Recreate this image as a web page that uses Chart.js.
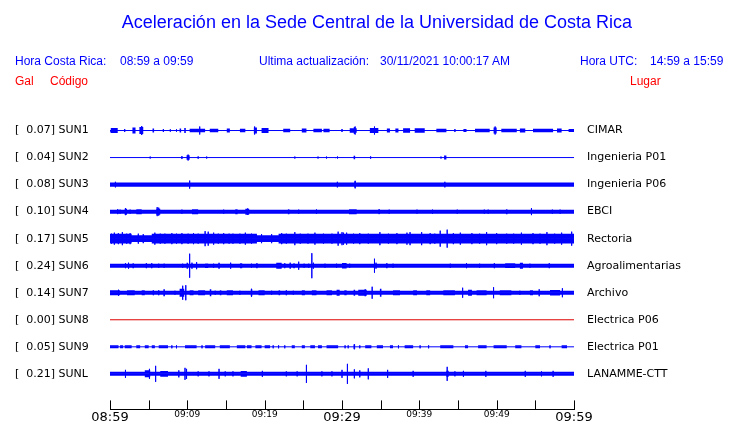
<!DOCTYPE html>
<html>
<head>
<meta charset="utf-8">
<script src="https://cdn.jsdelivr.net/npm/chart.js@4"></script>
<style>
  body { margin: 0; background: #fff; }
  #wrap { position: relative; width: 740px; height: 423px; overflow: hidden; }
  /* canvas a bit taller than the page so the time axis lands at y=409 */
  #box { position: absolute; left: 0; top: 0; width: 740px; height: 429px; }
  .t { position: absolute; white-space: pre; font-family: "Liberation Sans", Arial, sans-serif;
       font-size: 12px; line-height: 14px; color: #0000ff; }
  .r { color: #ff0000; }
  #titulo { left: 0; width: 754px; top: 12px; text-align: center; font-size: 18px; line-height: 20px; }
</style>
</head>
<body>
<div id="wrap">
  <div id="box"><canvas id="sismo"></canvas></div>
  <div class="t" id="titulo">Aceleración en la Sede Central de la Universidad de Costa Rica</div>
  <div class="t" style="left:15px;top:54px">Hora Costa Rica:</div>
  <div class="t" style="left:120px;top:54px">08:59 a 09:59</div>
  <div class="t" style="left:259px;top:54px">Ultima actualización:</div>
  <div class="t" style="left:380px;top:54px">30/11/2021 10:00:17 AM</div>
  <div class="t" style="left:580px;top:54px">Hora UTC:</div>
  <div class="t" style="left:650px;top:54px">14:59 a 15:59</div>
  <div class="t r" style="left:15px;top:74px">Gal</div>
  <div class="t r" style="left:50px;top:74px">Código</div>
  <div class="t r" style="left:630px;top:74px">Lugar</div>
</div>
<script>
// STATIONS
const codigos = ['SUN1', 'SUN2', 'SUN3', 'SUN4', 'SUN5', 'SUN6', 'SUN7', 'SUN8', 'SUN9', 'SUNL'];
const lugares = ['CIMAR', 'Ingenieria P01', 'Ingenieria P06', 'EBCI', 'Rectoria', 'Agroalimentarias',
                 'Archivo', 'Electrica P06', 'Electrica P01', 'LANAMME-CTT'];
const gal = [0.07, 0.04, 0.08, 0.10, 0.17, 0.24, 0.14, 0.00, 0.05, 0.21];

// time axis labels, one every 10 minutes (minute 0 = 08:59)
const horas = ['08:59', '09:09', '09:19', '09:29', '09:39', '09:49', '09:59'];

// background noise half-width of every trace
const fondo = [0.4, 0, 2.2, 2.0, 3.3, 2.0, 2.0, 0, 0, 2.0];

// BURSTS [from minute, to minute, half amplitude]  and  PEAKS [minute, half amplitude]
const rafagasSUN1 = [[0.1,1.0,2.5],[2.9,3.3,3],[3.8,4.3,3.5],[5.5,5.7,2],[9.0,9.2,2],[9.6,9.8,2.5],[10.3,12.3,1.8],
  [12.9,14.0,1.8],[15.1,15.5,2],[16.8,17.5,1.8],[18.6,19.0,3],[19.6,20.5,2.5],[22.4,23.3,1.8],[24.8,25.4,2],
  [26.3,27.4,1.8],[27.6,28.4,1.8],[29.9,30.1,1.5],[31.0,31.9,2.2],[33.6,34.7,2.5],[35.8,36.2,2],[36.9,37.3,2],
  [37.9,38.8,2.2],[39.4,40.7,2.2],[42.2,43.5,1.8],[45.7,46.1,1.5],[47.2,49.1,1.8],[49.6,50.0,3],[50.6,52.6,1.8],
  [53.0,53.7,2],[54.7,57.3,1.8],[57.8,58.4,2],[59.3,60,1.5]];
const picosSUN1 = [[0.3,2.5],[1.9,1.5],[4.1,4.5],[6.9,1.5],[7.8,1.2],[8.6,1.2],[11.6,4],[18.7,4],[31.6,3.5],
  [31.7,4],[34.2,4],[44.6,1.5],[49.8,4]];

const rafagasSUN2 = [[9.9,10.3,2.2],[29.1,29.2,1.5],[29.35,29.45,1.5],[31.5,31.7,1.8],[43.2,43.5,2]];
const picosSUN2 = [[5.2,1],[9.3,1.5],[10.1,3],[11.4,1.2],[12.5,1],[23.9,1],[26.9,1],[28.0,1],[33.7,1.2],[42.8,1]];

const rafagasSUN3 = [[31.6,31.8,3]];
const picosSUN3 = [[0.7,2.8],[10.3,4],[29.4,2.8],[31.7,3.8],[43.3,2.8]];

const rafagasSUN4 = [[1.9,2.2,3],[3.4,4.1,2.5],[6.0,6.5,3],[10.6,11.4,2.5],[16.2,16.5,2.5],[17.5,18.0,3],
  [23.0,23.2,2.5],[30.9,31.9,2.5],[51.2,51.4,2.5]];
const picosSUN4 = [[1.0,2.5],[1.3,2],[2.0,3.5],[2.6,2],[6.1,4.5],[6.3,4],[9.3,2],[14.7,2],[17.8,3.2],[24.4,2],
  [26.7,2.2],[34.8,2.5],[36.1,2],[39.7,2],[41.7,2],[44.9,2],[48.4,2],[48.9,2],[54.5,3.5],[57.2,2],[58.2,2]];

const rafagasSUN5 = [[0,2.8,4.8],[5.4,19.0,4.8],[21.8,60,4.8]];
const picosSUN5 = [[0.2,5],[0.56,6],[1.08,5.5],[1.6,6.5],[2.16,5],[2.6,5.5],[3.66,5],[4.3,4.5],[5.8,6],[6.5,5],
  [7.1,5],[8.0,5.5],[8.6,5],[9.3,5.5],[10.1,5],[10.8,5.5],[11.4,5],[12.3,7.5],[12.7,7],[13.4,6],[14.0,5],[14.7,5.5],
  [15.4,5],[15.9,5],[16.8,5],[17.5,6],[18.3,5],[19.6,4.5],[20.9,4.5],[22.2,5.5],[22.8,5],[23.9,6.5],[24.6,5],
  [25.6,5],[26.5,6],[27.6,5],[28.7,5],[29.5,7],[30.0,6.5],[30.2,6],[30.6,6],[31.5,5],[32.3,5.5],[33.4,5],[34.9,6.5],
  [36.0,5],[37.1,5.5],[38.4,6],[38.8,6.5],[40.3,6.5],[41.4,5.5],[42.0,5],[42.7,8],[43.6,9],[44.4,5.5],[45.3,6],
  [46.8,5.5],[47.8,5],[48.7,6.5],[50.0,5.5],[51.3,5],[52.2,5],[53.2,6],[54.7,5.5],[55.6,5],[56.5,6.5],[57.5,5],
  [58.4,6],[59.7,7]];

const rafagasSUN6 = [[2.9,3.1,2.5],[9.9,10.1,3],[12.3,12.7,2.3],[14.0,14.2,3],[16.8,17.1,2.5],[21.5,22.2,3],
  [23.7,23.9,2.5],[30.0,30.6,2.8],[51.1,52.4,2.4],[53.0,53.4,3]];
const picosSUN6 = [[2.0,2.5],[2.4,3],[4.7,2.5],[5.4,2.5],[6.3,2],[7.0,2],[9.4,2],[10.3,12],[10.6,3],[11.2,3.5],
  [13.4,2],[15.6,3],[18.3,2],[19.0,2.5],[22.6,2.5],[23.3,3],[24.4,4],[25.1,2],[25.7,2],[26.1,12.5],[26.3,3],
  [27.8,2],[29.3,2],[31.0,2],[34.2,7],[34.4,3],[35.8,2.5],[36.6,2],[44.0,2],[46.1,2.5],[47.8,2],[49.7,2.5],
  [54.3,2],[56.8,2.5]];

const rafagasSUN7 = [[0,1.3,2.5],[2.2,3.2,2.5],[4.1,4.5,2.5],[6.9,7.1,3.5],[9.0,9.6,4],[10.3,10.8,2.5],
  [11.4,12.3,2.4],[12.9,13.1,3.5],[14.2,14.4,2.5],[15.1,15.9,2.5],[18.2,18.4,3.5],[19.2,20.0,2.5],[21.8,22.0,2.5],
  [24.8,25.2,2.5],[26.1,26.7,2.5],[28.0,28.7,2.5],[29.3,29.7,3],[30.3,30.6,2.5],[31.5,31.7,3],[32.1,33.2,3],
  [34.9,35.1,4],[36.6,37.5,2.5],[39.2,39.7,2.5],[40.9,41.4,2.5],[43.1,44.6,2.4],[46.3,46.8,3],[47.4,48.7,2.5],
  [50.4,51.9,2.5],[54.3,54.7,2.5],[56.9,58.2,2.7]];
const picosSUN7 = [[1.1,3],[5.6,2.5],[6.3,2.5],[8.4,2],[9.4,7],[9.8,7.5],[13.6,2],[16.8,2],[18.3,4],[20.9,2],
  [22.8,2.5],[23.7,2],[33.0,3.5],[33.9,6],[45.6,5],[49.6,5.5],[53.0,2],[55.5,3.5],[58.5,4.5]];

const rafagasSUN8 = [];
const picosSUN8 = [];

const rafagasSUN9 = [[0,1.1,1.5],[1.3,1.7,1.5],[1.9,2.8,1.5],[3.4,3.9,1.5],[4.5,5.0,1.5],[5.4,5.8,1.5],[6.3,7.5,1.5],
  [9.7,11.2,1.5],[12.3,13.6,1.5],[14.2,15.5,1.5],[16.4,17.5,1.5],[17.7,18.3,1.5],[18.8,19.6,1.5],[20.0,20.7,1.5],
  [23.5,23.9,1.5],[24.8,25.2,1.5],[25.9,26.5,1.5],[26.9,27.4,1.5],[28.0,29.5,1.5],[31.5,31.7,2.2],[33.0,33.8,1.5],
  [34.5,35.3,1.5],[36.2,36.6,1.5],[38.1,39.2,1.5],[42.7,44.4,1.5],[45.9,46.3,1.5],[47.6,48.7,1.5],[49.6,51.3,1.5],
  [52.4,53.2,1.5],[55.0,55.6,1.5],[58.4,59.1,1.5]];
const picosSUN9 = [[8.0,1.5],[8.6,1.5],[11.9,1.5],[21.1,1.5],[21.8,1.5],[22.6,1.5],[30.4,1.5],[30.8,1.5],
  [31.6,2.5],[32.3,1.5],[37.3,1.5],[40.1,1.5],[41.2,1.5],[56.9,1.5]];

const rafagasSUNL = [[4.5,5.2,3.5],[6.5,7.5,2.8],[16.9,17.7,2.8],[43.5,43.8,3]];
const picosSUNL = [[2.0,4],[5.1,5],[5.9,8],[8.9,3.5],[9.7,6],[9.9,5],[11.4,2.5],[12.8,2.5],[14.1,5],[14.9,2.5],
  [15.9,2.5],[19.7,3],[22.8,2.5],[24.2,2.5],[25.4,9],[27.4,2.5],[28.7,2.5],[30.0,4],[30.7,10],[31.6,4.5],[32.3,3.5],
  [33.4,5.5],[35.9,4],[39.2,3],[43.6,7],[44.6,2.5],[45.7,3],[48.6,3],[53.7,3],[55.8,2.5],[57.3,3]];

const rafagas = [rafagasSUN1, rafagasSUN2, rafagasSUN3, rafagasSUN4, rafagasSUN5,
                 rafagasSUN6, rafagasSUN7, rafagasSUN8, rafagasSUN9, rafagasSUNL];
const picos = [picosSUN1, picosSUN2, picosSUN3, picosSUN4, picosSUN5,
               picosSUN6, picosSUN7, picosSUN8, picosSUN9, picosSUNL];

const SEP = 27;        // vertical distance between traces, in axis units
const FIN = 60;        // minutes shown

// ENVELOPE OF A TRACE (one side): noise band plus bursts
const buildBanda = (off, base, lista, lado) => {
    let pts = [{x: 0, y: off + lado * base}];
    lista.slice().sort((a, b) => a[0] - b[0]).forEach((r) => {
        pts.push({x: r[0], y: off + lado * base}, {x: r[0], y: off + lado * r[2]},
                 {x: r[1], y: off + lado * r[2]}, {x: r[1], y: off + lado * base});
    });
    pts.push({x: FIN, y: off + lado * base});
    return pts;
}

// SINGLE PEAKS drawn as thin vertical strokes (also gives the 1px centre line)
const buildPicos = (off, lista) => {
    let pts = [{x: 0, y: off}];
    lista.slice().sort((a, b) => a[0] - b[0]).forEach((p) => {
        pts.push({x: p[0], y: off}, {x: p[0], y: off - p[1]}, {x: p[0], y: off + p[1]}, {x: p[0], y: off});
    });
    pts.push({x: FIN, y: off});
    return pts;
}

let datasets = [];
codigos.forEach((c, i) => {
    const off = i * SEP;
    const color = (c === 'SUN8') ? '#dd0000' : '#0000ff';
    const comun = {borderColor: color, backgroundColor: color, pointRadius: 0, tension: 0};
    datasets.push(Object.assign({data: buildBanda(off, fondo[i], rafagas[i], -1), fill: {value: off}, borderWidth: 0}, comun));
    datasets.push(Object.assign({data: buildBanda(off, fondo[i], rafagas[i], 1), fill: {value: off}, borderWidth: 0}, comun));
    datasets.push(Object.assign({data: buildPicos(off, picos[i]), fill: false, borderWidth: 1}, comun));
});

// tick marks of the time axis point upwards
const marcasArriba = {
    id: 'marcasArriba',
    afterDraw(chart) {
        const s = chart.scales.x;
        const ctx = chart.ctx;
        const b = chart.chartArea.bottom;
        ctx.save();
        ctx.strokeStyle = '#000';
        ctx.lineWidth = 1;
        s.ticks.forEach((t) => {
            const px = Math.round(s.getPixelForValue(t.value)) + 0.5;
            ctx.beginPath();
            ctx.moveTo(px, b);
            ctx.lineTo(px, b - 9);
            ctx.stroke();
        });
        ctx.restore();
    }
};

const ejeY = (pos, textos, padding, ancho, align) => ({
    type: 'linear', position: pos, reverse: true, min: -14.5, max: 278.5,
    afterBuildTicks: (s) => { s.ticks = codigos.map((c, i) => ({value: i * SEP})); },
    afterFit: (s) => { s.width = ancho; },
    grid: {display: false, drawTicks: false},
    border: {display: false},
    ticks: {
        autoSkip: false, padding: padding, crossAlign: align, color: '#000',
        font: {family: 'DejaVu Sans', size: 11},
        callback: (v, i) => textos[i]
    }
});

const etiquetasIzq = codigos.map((c, i) => '[  ' + gal[i].toFixed(2) + '] ' + c);

var ctx = document.getElementById('sismo').getContext('2d');
var chart = new Chart(ctx, {
    type: 'line',
    data: {datasets: datasets},
    plugins: [marcasArriba],
    options: {
        responsive: true,
        maintainAspectRatio: false,
        animation: false,
        events: [],
        layout: {padding: {top: 116, left: 15, right: 0, bottom: 0}},
        plugins: {legend: {display: false}, tooltip: {enabled: false}},
        scales: {
            x: {
                type: 'linear', min: 0, max: FIN,
                grid: {drawOnChartArea: false, drawTicks: false},
                border: {display: true, color: '#000', width: 1},
                ticks: {
                    stepSize: 5, autoSkip: false, maxRotation: 0, padding: 0, color: '#000',
                    font: (c) => ({family: 'DejaVu Sans', size: (c.tick && c.tick.value % 30 === 0) ? 13 : 9}),
                    callback: (v) => (v % 10 === 0) ? horas[v / 10] : ''
                }
            },
            y: ejeY('left', etiquetasIzq, 0, 95, 'far'),
            y2: ejeY('right', lugares, 13, 166, 'near')
        }
    }
});
</script>
</body>
</html>
